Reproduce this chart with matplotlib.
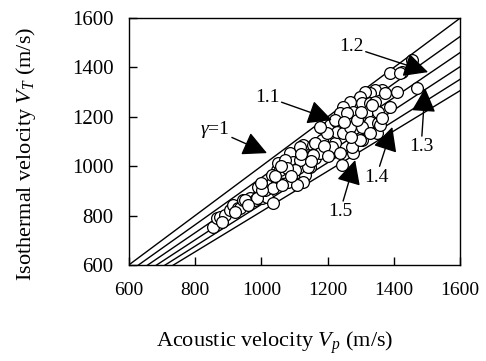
import numpy as np
import matplotlib
matplotlib.use("Agg")
import matplotlib.pyplot as plt

plt.rcParams["font.family"] = ["Liberation Serif", "DejaVu Serif"]
plt.rcParams["mathtext.fontset"] = "custom"
plt.rcParams["mathtext.rm"] = "Liberation Serif"
plt.rcParams["mathtext.it"] = "Liberation Serif:italic"

# measured points (acoustic velocity Vp, isothermal velocity VT), m/s
vp = [854, 866, 875, 890, 905, 914, 929, 935, 944, 966, 981, 990, 1002, 1017,
      1020, 1032, 1047, 1047, 1050, 987, 1011, 1035, 1065, 1080, 1065, 1086,
      1108, 1132, 1126, 1123, 1108, 1086, 1126, 1156, 1162, 1147, 950, 1035,
      1183, 1207, 1228, 1207, 1183, 1162, 1153, 1177, 1095, 1071, 1111, 1141,
      1056, 1032, 1222, 1228, 1455, 1425, 1388, 1419, 1364, 1343, 1328, 1313,
      1298, 1268, 1246, 1237, 1222, 1277, 1304, 1328, 1343, 1319, 1352, 1373,
      1410, 1388, 1292, 1328, 1352, 1470, 1349, 1304, 1304, 1358, 1364, 1243,
      1277, 1213, 1117, 1117, 1062, 1101, 1108, 1198, 1246, 1268, 1289, 1237,
      1274, 1298, 1328, 1334, 1259, 1156, 1177, 920, 881, 960, 1002, 1077,
      1000, 1040, 1090, 1150, 1190, 1250, 1270, 1300, 1200, 1120, 1060]
vt = [754, 790, 794, 802, 823, 843, 831, 831, 863, 871, 863, 916, 871, 875,
      912, 932, 936, 985, 1013, 871, 904, 912, 936, 936, 977, 1013,
      977, 964, 936, 1017, 1037, 1053, 1086, 1086, 1033, 997, 863, 851,
      1155, 1167, 1179, 1118, 1106, 1094, 1045, 1053, 1017, 1025, 993, 997,
      985, 964, 1094, 1139, 1430, 1381, 1377, 1377, 1309, 1309, 1296, 1300,
      1280, 1260, 1240, 1215, 1187, 1219, 1256, 1256, 1260, 1219, 1219, 1296,
      1300, 1240, 1179, 1179, 1175, 1317, 1134, 1106, 1159, 1167, 1195, 1005,
      1053, 1078, 1078, 1025, 924, 985, 924, 1134, 1134, 1159, 1187, 1053,
      1078, 1106, 1134, 1248, 1215, 1045, 1159, 815, 774, 843, 904, 993,
      930, 960, 960, 1020, 1080, 1180, 1120, 1220, 1040, 1050, 1000]

# ratio of specific heats for the reference lines VT = Vp / sqrt(gamma)
gammas = [1.0, 1.1, 1.2, 1.3, 1.4, 1.5]
line_x = [600, 1600]

# annotation labels: text, text position, arrow tip
ann_text = ["$\\mathit{\\gamma}$=1", "1.1", "1.2", "1.3", "1.4", "1.5"]
ann_xy_text = [(860, 1147), (1017, 1280), (1271, 1483), (1482, 1078), (1346, 956), (1237, 815)]
ann_tip = [(1017, 1053), (1213, 1187), (1503, 1381), (1494, 1317), (1395, 1159), (1283, 1025)]

fig = plt.figure(figsize=(4.86, 3.61), dpi=100)
ax = fig.add_axes([0.265, 0.266, 0.682, 0.684])

for g in gammas:
    xs = np.array(line_x, dtype=float)
    ax.plot(xs, xs / np.sqrt(g), color="black", lw=1.0, zorder=2)

ax.scatter(vp, vt, s=72, facecolor="white", edgecolor="black", linewidth=0.9, zorder=3)

for t, xy_t, tip in zip(ann_text, ann_xy_text, ann_tip):
    ax.annotate(t, xy=tip, xytext=xy_t, fontsize=14, ha="center", va="center",
                bbox=dict(boxstyle="square,pad=0.05", fc="none", ec="none"),
                arrowprops=dict(arrowstyle="-|>,head_length=1.0,head_width=0.5",
                                color="black", lw=1.0, mutation_scale=15,
                                shrinkA=1, shrinkB=0), zorder=4)

ax.set_xlim(600, 1600)
ax.set_ylim(600, 1600)
ax.set_xticks(range(600, 1601, 200))
ax.set_yticks(range(600, 1601, 200))
ax.tick_params(direction="in", length=6, width=1)
ax.tick_params(axis="x", labelsize=14, pad=12)
ax.tick_params(axis="y", labelsize=15, pad=11)
for s in ax.spines.values():
    s.set_linewidth(1.0)

ax.set_xlabel("Acoustic velocity $V_p$ (m/s)", fontsize=16)
ax.xaxis.set_label_coords(0.44, -0.26)
ax.set_ylabel("Isothermal velocity $V_T$ (m/s)", fontsize=16)
ax.yaxis.set_label_coords(-0.275, 0.45)

fig.savefig("out.png", dpi=100)
